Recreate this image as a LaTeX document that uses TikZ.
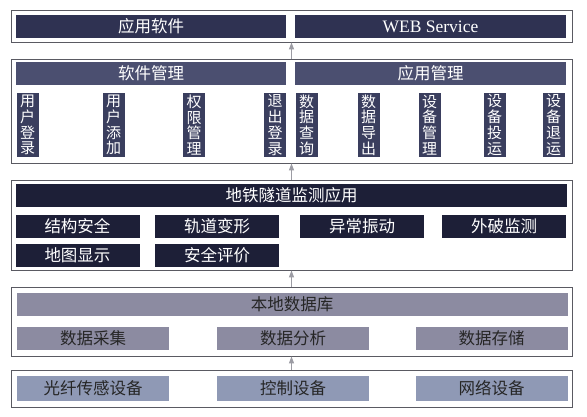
\documentclass[tikz,border=0pt]{standalone}
\usepackage{fontspec}
\setmainfont{Liberation Serif}
\newfontfamily\cjk{Noto Sans CJK SC}
\usepackage{xcolor}
\definecolor{frame}{HTML}{5A5A62}
\definecolor{topbar}{HTML}{2F3252}
\definecolor{midbar}{HTML}{4B4F70}
\definecolor{colbar}{HTML}{3A3E5E}
\definecolor{appbar}{HTML}{1D1F37}
\definecolor{dbbar}{HTML}{8C8BA1}
\definecolor{devbar}{HTML}{8F99B5}
\definecolor{arrgray}{HTML}{9C9CA4}
\usepackage{tikz}
\usetikzlibrary{arrows.meta,positioning}
\tikzset{
  >={Triangle[length=7pt,width=5pt]},
  layer/.style={draw=frame,line width=0.8pt,minimum width=561pt,inner sep=0pt,fill=white},
  bar/.style={inner sep=0pt,minimum height=23pt,text=white,font=\cjk\fontsize{16.5}{18}\selectfont},
  hbar/.style={bar,minimum width=551pt},
  vbar/.style={bar,fill=colbar,minimum width=22pt,minimum height=64pt,align=center,font=\cjk\fontsize{15}{15.8}\selectfont},
  lbar/.style={bar,text=black!85,minimum width=152pt},
  up/.style={->,draw=arrgray,line width=1pt},
}

\begin{document}
\begin{tikzpicture}[x=1pt,y=-1pt]
\useasboundingbox[fill=white] (0,0) rectangle (587,416);
% application layer
\node[layer,minimum height=32pt] (l1) at (291.5,26) {};
\node[bar,fill=topbar,minimum width=270pt] (soft) at (151,26.5) {应用软件};
\node[bar,fill=topbar,minimum width=271pt,font=\fontsize{17.5}{19}\selectfont] (web) at (430.5,26.5) {WEB Service};
% management layer
\node[layer,minimum height=104pt] (l2) at (291.5,111) {};
\node[bar,fill=midbar,minimum width=270pt] (swm) at (151,73.5) {软件管理};
\node[bar,fill=midbar,minimum width=271pt] (apm) at (430.5,73.5) {应用管理};
\node[vbar] (u1) at (27.5,125) {用\\户\\登\\录};
\node[vbar] (u2) at (113.5,125) {用\\户\\添\\加};
\node[vbar] (u3) at (194,125) {权\\限\\管\\理};
\node[vbar] (u4) at (275,125) {退\\出\\登\\录};
\node[vbar] (a1) at (306.5,125) {数\\据\\查\\询};
\node[vbar] (a2) at (368.5,125) {数\\据\\导\\出};
\node[vbar] (a3) at (429.5,125) {设\\备\\管\\理};
\node[vbar] (a4) at (494.5,125) {设\\备\\投\\运};
\node[vbar] (a5) at (553.5,125) {设\\备\\退\\运};
% monitoring layer
\node[layer,minimum height=90pt] (l3) at (291.5,225) {};
\node[hbar,fill=appbar] (mon) at (291.5,195.5) {地铁隧道监测应用};
\node[bar,fill=appbar,minimum width=124pt] (m1) at (77.5,226) {结构安全};
\node[bar,fill=appbar,minimum width=124pt] (m2) at (217,226) {轨道变形};
\node[bar,fill=appbar,minimum width=124pt] (m3) at (362,226) {异常振动};
\node[bar,fill=appbar,minimum width=124pt] (m4) at (504,226) {外破监测};
\node[bar,fill=appbar,minimum width=124pt] (m5) at (77.5,255.5) {地图显示};
\node[bar,fill=appbar,minimum width=124pt] (m6) at (217,255.5) {安全评价};
% data layer
\node[layer,minimum height=69pt] (l4) at (291.5,321.5) {};
\node[hbar,fill=dbbar,text=black!85] (db) at (292,304.5) {本地数据库};
\node[lbar,fill=dbbar] (d1) at (93,338.5) {数据采集};
\node[lbar,fill=dbbar] (d2) at (293,338.5) {数据分析};
\node[lbar,fill=dbbar] (d3) at (491.5,338.5) {数据存储};
% device layer
\node[layer,minimum height=37pt] (l5) at (291.5,388.5) {};
\node[lbar,fill=devbar,minimum height=25pt] (e1) at (93,388.5) {光纤传感设备};
\node[lbar,fill=devbar,minimum height=25pt] (e2) at (293,388.5) {控制设备};
\node[lbar,fill=devbar,minimum height=25pt] (e3) at (491.5,388.5) {网络设备};
\draw[up] (l2.north) -- (l1.south);
\draw[up] (l3.north) -- (l2.south);
\draw[up] (l4.north) -- (l3.south);
\draw[up] (l5.north) -- (l4.south);
\end{tikzpicture}
\end{document}
